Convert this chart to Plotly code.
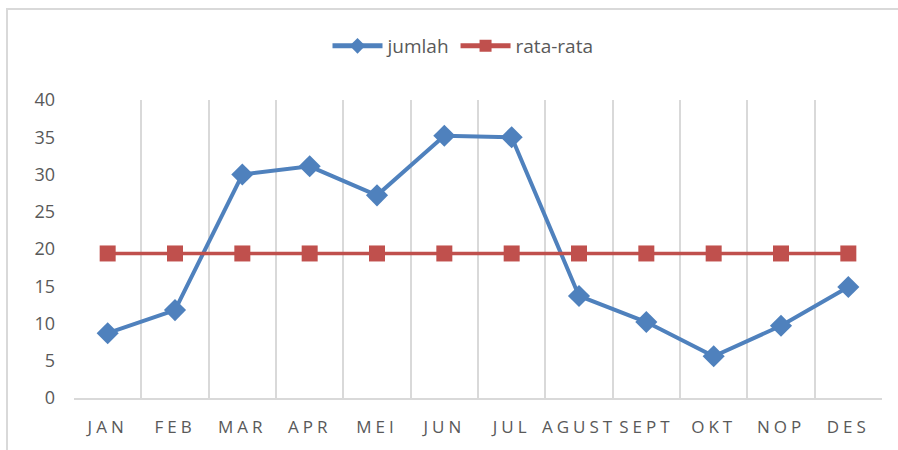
import plotly.graph_objects as go

months = ["JAN", "FEB", "MAR", "APR", "MEI", "JUN", "JUL", "AGUST", "SEPT", "OKT", "NOP", "DES"]
jumlah = [8.7, 11.8, 30.0, 31.1, 27.2, 35.2, 35.0, 13.7, 10.2, 5.6, 9.7, 14.9]
rata_rata = [19.4, 19.4, 19.4, 19.4, 19.4, 19.4, 19.4, 19.4, 19.4, 19.4, 19.4, 19.4]
y_ticks = [0, 5, 10, 15, 20, 25, 30, 35, 40]

BLUE = "#4F81BD"
RED = "#C0504D"
GRID = "#D9D9D9"
TXT = "#595959"
FONT = "Open Sans, Lato, sans-serif"

fig = go.Figure()
fig.add_trace(go.Scatter(
    x=months, y=jumlah, name="jumlah", mode="lines+markers",
    line=dict(color=BLUE, width=4),
    marker=dict(symbol="diamond", size=17, color=BLUE),
))
fig.add_trace(go.Scatter(
    x=months, y=rata_rata, name="rata-rata", mode="lines+markers",
    line=dict(color=RED, width=3.5),
    marker=dict(symbol="square", size=16, color=RED),
))

L, R, T, B = 74, 882, 100, 398
W, H = 898, 450
pw, ph = R - L, B - T

def px_x(x):
    return (x - L) / pw

def px_y(y):
    return (B - y) / ph

fig.add_shape(type="rect", xref="paper", yref="paper",
              x0=px_x(7), x1=px_x(905), y0=px_y(458), y1=px_y(9),
              line=dict(color=GRID, width=2), fillcolor="rgba(0,0,0,0)", layer="below")

fig.update_layout(
    width=W, height=H,
    margin=dict(l=L, r=W - R, t=T, b=H - B),
    paper_bgcolor="white", plot_bgcolor="white",
    font=dict(family=FONT, color=TXT, size=16),
    showlegend=True,
    legend=dict(orientation="h", x=px_x(463), xanchor="center", y=px_y(46), yanchor="middle",
                font=dict(size=19, color=TXT), itemwidth=50, itemsizing="constant",
                bgcolor="rgba(0,0,0,0)"),
    xaxis=dict(type="category", tickson="boundaries", showgrid=True, gridcolor=GRID, gridwidth=1.5,
               showline=True, linecolor=GRID, linewidth=2, ticks="", range=[-0.5, 11.5],
               tickfont=dict(size=17, color=TXT), ticklabelstandoff=13, zeroline=False),
    yaxis=dict(range=[0, 40], tickvals=y_ticks, showgrid=False, zeroline=False, showline=False,
               ticks="", tickfont=dict(size=18, color=TXT), ticklabelstandoff=18),
)

post = """
document.body.style.margin='0';
function ls(){document.querySelectorAll('.xtick text').forEach(function(t){t.style.letterSpacing='4px';});}
ls(); var gd=document.getElementsByClassName('plotly-graph-div')[0]; if(gd&&gd.on){gd.on('plotly_afterplot', ls);}
"""
fig.write_html("out.html", post_script=post, config={"displayModeBar": False})
